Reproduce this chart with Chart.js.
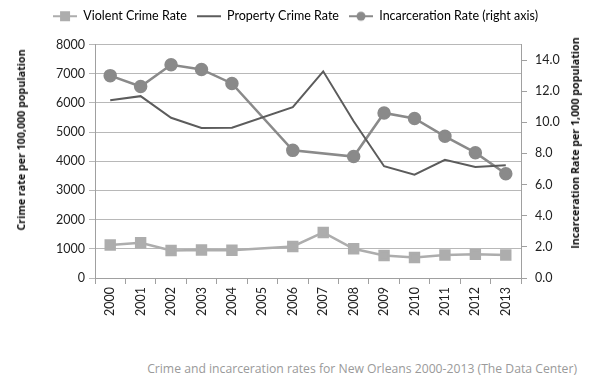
<!DOCTYPE html>
<html>
<head>
<meta charset="utf-8">
<script src="https://cdn.jsdelivr.net/npm/chart.js@4"></script>
<style>
body { margin: 0; background: #fff; }
#wrap { position: relative; width: 591px; height: 382px; overflow: hidden; }
#chartBox { position: absolute; left: 0; top: 0; width: 591px; height: 319px; }
.axisTitle { position: absolute; white-space: nowrap; font-family: "Open Sans", sans-serif;
  font-size: 10.7px; font-weight: bold; color: #111; transform: translate(-50%, -50%) rotate(-90deg); }
#leftTitle { left: 21px; top: 140px; }
#rightTitle { left: 575px; top: 143px; }
#caption { position: absolute; right: 14px; top: 360px; white-space: nowrap;
  font-family: "Open Sans", sans-serif; font-size: 12.2px; color: #9a9a9a; }
</style>
</head>
<body>
<div id="wrap">
<div id="chartBox"><canvas id="crimeChart"></canvas></div>
<div class="axisTitle" id="leftTitle">Crime rate per 100,000 population</div>
<div class="axisTitle" id="rightTitle">Incarceration Rate per 1,000 population</div>
<div id="caption">Crime and incarceration rates for New Orleans 2000-2013 (The Data Center)</div>
</div>
<script>
// data
var years = ["2000","2001","2002","2003","2004","2005","2006","2007","2008","2009","2010","2011","2012","2013"];
var violent = [1130, 1210, 940, 960, 950, null, 1080, 1560, 1000, 770, 700, 790, 810, 790];
var property = [6090, 6230, 5490, 5140, 5150, null, 5850, 7080, 5370, 3830, 3540, 4050, 3800, 3860];
var incarceration = [13.0, 12.3, 13.7, 13.4, 12.5, null, 8.2, null, 7.8, 10.6, 10.25, 9.1, 8.05, 6.7];
var leftTicks = [0, 1000, 2000, 3000, 4000, 5000, 6000, 7000, 8000];
var rightTicks = [0, 2, 4, 6, 8, 10, 12, 14];

var violentColor = "#adadad";
var propertyColor = "#5c5c5c";
var incColor = "#8a8a8a";

// small legend icons: line with marker
function legendIcon(color, marker) {
    var c = document.createElement("canvas");
    c.width = 24; c.height = 12;
    var ctx = c.getContext("2d");
    ctx.strokeStyle = color;
    ctx.lineWidth = 2;
    ctx.beginPath(); ctx.moveTo(0, 6); ctx.lineTo(24, 6); ctx.stroke();
    ctx.fillStyle = color;
    if (marker == "rect") ctx.fillRect(7, 1, 10, 10);
    if (marker == "circle") { ctx.beginPath(); ctx.arc(12, 6, 4.5, 0, Math.PI * 2); ctx.fill(); }
    return c;
}

// extra room under the legend
var legendGap = {
    id: "legendGap",
    beforeInit: function(chart) {
        var fitOrig = chart.legend.fit;
        chart.legend.fit = function() {
            fitOrig.bind(chart.legend)();
            this.height += 12;
        };
    }
};

var tickFont = { family: "Lato, sans-serif", size: 12.5 };

var crimeChart = new Chart(document.getElementById("crimeChart"), {
    type: "line",
    plugins: [legendGap],
    data: {
        labels: years,
        datasets: [
            {
                label: "Violent Crime Rate",
                data: violent,
                yAxisID: "yLeft",
                borderColor: violentColor,
                backgroundColor: violentColor,
                borderWidth: 2.5,
                pointStyle: "rect",
                pointRadius: 6.3,
                spanGaps: true,
                lineTension: 0
            },
            {
                label: "Property Crime Rate",
                data: property,
                yAxisID: "yLeft",
                borderColor: propertyColor,
                backgroundColor: propertyColor,
                borderWidth: 2,
                pointRadius: 0,
                spanGaps: true,
                lineTension: 0
            },
            {
                label: "Incarceration Rate (right axis)",
                data: incarceration,
                yAxisID: "yRight",
                borderColor: incColor,
                backgroundColor: incColor,
                borderWidth: 2.5,
                pointStyle: "circle",
                pointRadius: 5.5,
                spanGaps: true,
                lineTension: 0
            }
        ]
    },
    options: {
        responsive: true,
        maintainAspectRatio: false,
        animation: false,
        layout: { padding: { left: 0, right: 0, top: 0, bottom: 0 } },
        plugins: {
            legend: {
                position: "top",
                labels: {
                    usePointStyle: true,
                    pointStyleWidth: 24,
                    color: "#333",
                    font: { family: "Lato, sans-serif", size: 12.5 },
                    padding: 10,
                    generateLabels: function(chart) {
                        var icons = [legendIcon(violentColor, "rect"), legendIcon(propertyColor, ""), legendIcon(incColor, "circle")];
                        return chart.data.datasets.map(function(ds, i) {
                            return { text: ds.label, pointStyle: icons[i], datasetIndex: i, strokeStyle: ds.borderColor, fillStyle: ds.borderColor, lineWidth: 0 };
                        });
                    }
                }
            },
            tooltip: { enabled: false }
        },
        scales: {
            x: {
                offset: true,
                grid: { offset: true, drawOnChartArea: false, tickLength: 6, color: "#a0a0a0" },
                border: { color: "#a0a0a0" },
                ticks: { maxRotation: 90, minRotation: 90, color: "#222", font: tickFont }
            },
            yLeft: {
                position: "left",
                min: 0, max: 8000,
                afterBuildTicks: function(axis) { axis.ticks = leftTicks.map(function(v) { return { value: v }; }); },
                afterFit: function(axis) { axis.width = 95; },
                grid: { color: "#b8b8b8", tickLength: 6 },
                border: { color: "#a0a0a0" },
                ticks: { color: "#222", font: tickFont, padding: 4,
                    callback: function(v) { return String(v); } }
            },
            yRight: {
                position: "right",
                min: 0, max: 15,
                afterBuildTicks: function(axis) { axis.ticks = rightTicks.map(function(v) { return { value: v }; }); },
                afterFit: function(axis) { axis.width = 70; },
                grid: { drawOnChartArea: false, color: "#a0a0a0", tickLength: 6 },
                border: { color: "#a0a0a0" },
                ticks: { color: "#222", font: tickFont, padding: 8,
                    callback: function(v) { return Number(v).toFixed(1); } }
            }
        }
    }
});
</script>
</body>
</html>
